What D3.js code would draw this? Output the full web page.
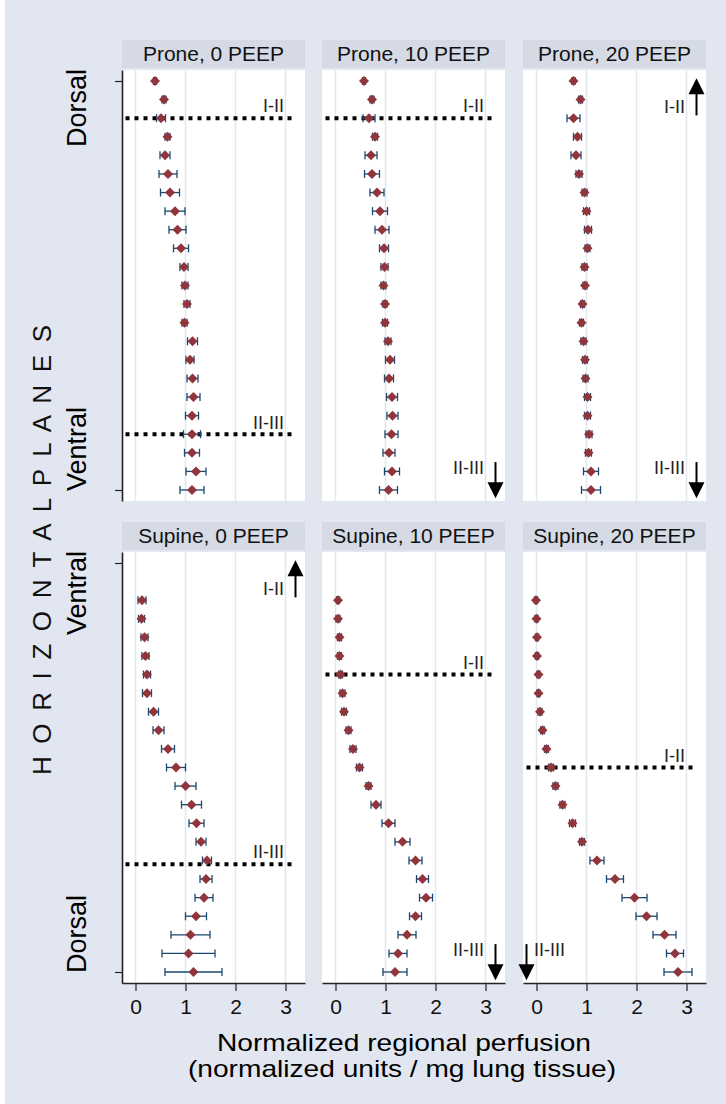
<!DOCTYPE html>
<html>
<head>
<meta charset="utf-8">
<script src="https://cdn.jsdelivr.net/npm/d3@7"></script>
<style>
  body { margin: 0; background: #fff; }
  text { font-family: "Liberation Sans", Arial, sans-serif; }
</style>
</head>
<body>
<svg id="chart" width="726" height="1104"></svg>
<script>
// planes 1..23, top of each panel to bottom
var planes = d3.range(1, 24);
var panelTitles = ["Prone, 0 PEEP", "Prone, 10 PEEP", "Prone, 20 PEEP",
                   "Supine, 0 PEEP", "Supine, 10 PEEP", "Supine, 20 PEEP"];
var xTicks = [0, 1, 2, 3];
var proneEnds = ["Dorsal", "Ventral"];
var supineEnds = ["Ventral", "Dorsal"];
var xTitle = ["Normalized regional perfusion", "(normalized units / mg lung tissue)"];
var yTitle = "H O R I Z O N T A L  P L A N E S";

var prone0Mean = [0.39, 0.57, 0.51, 0.64, 0.59, 0.65, 0.69, 0.79, 0.84, 0.91, 0.97, 0.99,
                  1.03, 0.98, 1.14, 1.09, 1.14, 1.16, 1.13, 1.13, 1.13, 1.21, 1.13];
var prone0Err  = [0.03, 0.04, 0.09, 0.05, 0.10, 0.18, 0.19, 0.20, 0.17, 0.15, 0.08, 0.06,
                  0.06, 0.05, 0.10, 0.08, 0.11, 0.13, 0.13, 0.17, 0.15, 0.20, 0.24];
var prone10Mean = [0.57, 0.73, 0.67, 0.79, 0.71, 0.73, 0.83, 0.89, 0.93, 0.97, 0.98, 0.96,
                   0.99, 0.99, 1.05, 1.09, 1.07, 1.13, 1.14, 1.12, 1.07, 1.13, 1.06];
var prone10Err  = [0.03, 0.04, 0.12, 0.05, 0.12, 0.15, 0.14, 0.15, 0.14, 0.09, 0.07, 0.05,
                   0.04, 0.05, 0.06, 0.09, 0.09, 0.11, 0.11, 0.13, 0.12, 0.15, 0.18];
var prone20Mean = [0.74, 0.88, 0.74, 0.82, 0.79, 0.85, 0.96, 1.00, 1.03, 1.02, 0.96, 0.97,
                   0.92, 0.90, 0.94, 0.97, 0.98, 1.02, 1.02, 1.05, 1.04, 1.09, 1.09];
var prone20Err  = [0.03, 0.04, 0.13, 0.08, 0.10, 0.06, 0.05, 0.06, 0.07, 0.05, 0.05, 0.04,
                   0.04, 0.04, 0.05, 0.05, 0.05, 0.06, 0.06, 0.06, 0.06, 0.15, 0.19];
var supine0Mean = [null, null, 0.13, 0.12, 0.18, 0.20, 0.23, 0.23, 0.36, 0.46, 0.65, 0.81,
                   1.00, 1.12, 1.22, 1.31, 1.43, 1.41, 1.37, 1.21, 1.10, 1.06, 1.16];
var supine0Err  = [null, null, 0.08, 0.06, 0.07, 0.07, 0.07, 0.09, 0.10, 0.11, 0.13, 0.19,
                   0.21, 0.20, 0.15, 0.10, 0.09, 0.12, 0.18, 0.21, 0.39, 0.53, 0.57];
var supine10Mean = [null, null, 0.05, 0.05, 0.08, 0.08, 0.10, 0.14, 0.17, 0.26, 0.35, 0.48,
                    0.66, 0.81, 1.06, 1.34, 1.60, 1.74, 1.81, 1.60, 1.43, 1.25, 1.19];
var supine10Err  = [null, null, 0.03, 0.04, 0.04, 0.04, 0.04, 0.05, 0.05, 0.05, 0.06, 0.06,
                    0.05, 0.10, 0.13, 0.15, 0.13, 0.12, 0.13, 0.12, 0.18, 0.18, 0.24];
var supine20Mean = [null, null, -0.01, 0.00, 0.01, 0.01, 0.04, 0.04, 0.07, 0.12, 0.20, 0.29,
                    0.38, 0.52, 0.72, 0.91, 1.21, 1.57, 1.96, 2.20, 2.56, 2.77, 2.83];
var supine20Err  = [null, null, 0.03, 0.03, 0.03, 0.03, 0.03, 0.03, 0.04, 0.04, 0.04, 0.05,
                    0.05, 0.05, 0.06, 0.05, 0.14, 0.17, 0.25, 0.21, 0.23, 0.17, 0.28];

// zone boundaries: plane where it falls, or "above"/"below" when outside the lung
var prone0Bounds   = [{label: "I-II", at: 3}, {label: "II-III", at: 20}];
var prone10Bounds  = [{label: "I-II", at: 3}, {label: "II-III", at: "below"}];
var prone20Bounds  = [{label: "I-II", at: "above"}, {label: "II-III", at: "below"}];
var supine0Bounds  = [{label: "I-II", at: "above"}, {label: "II-III", at: 17.2}];
var supine10Bounds = [{label: "I-II", at: 7}, {label: "II-III", at: "below"}];
var supine20Bounds = [{label: "I-II", at: 12}, {label: "II-III", at: "below", left: true}];

var panels = [
  {mean: prone0Mean, err: prone0Err, bounds: prone0Bounds, ends: proneEnds},
  {mean: prone10Mean, err: prone10Err, bounds: prone10Bounds, ends: proneEnds},
  {mean: prone20Mean, err: prone20Err, bounds: prone20Bounds, ends: proneEnds},
  {mean: supine0Mean, err: supine0Err, bounds: supine0Bounds, ends: supineEnds},
  {mean: supine10Mean, err: supine10Err, bounds: supine10Bounds, ends: supineEnds},
  {mean: supine20Mean, err: supine20Err, bounds: supine20Bounds, ends: supineEnds}
];
panels.forEach(function(p, i){ p.title = panelTitles[i]; });

var colX = [122, 322, 523], rowY = [70, 552];
var plotW = 183, plotH = 431, pad = 11;

var svg = d3.select("#chart");
svg.append("rect")
  .attr("x", 5).attr("y", 0)
  .attr("width", 721).attr("height", 1104)
  .attr("fill", "#e2e6f0");

var x = d3.scaleLinear().domain([-0.27, 3.39]).range([0, plotW]);
var y = d3.scaleLinear().domain([1, 23]).range([pad, plotH - pad]);
var yAxisScale = y.copy().domain([y.invert(0), y.invert(plotH)]).range([0, plotH]);

var diamond = function(r){
  return "M0," + (-r) + "L" + r + ",0L0," + r + "L" + (-r) + ",0Z";
};

function arrow(g, xv, from, to){
  var ax = x(xv), y0 = y(from), y1 = y(to);
  var dir = y1 < y0 ? 1 : -1;
  g.append("line")
    .attr("x1", ax).attr("x2", ax)
    .attr("y1", y0).attr("y2", y1 + dir * 12)
    .attr("stroke", "#000").attr("stroke-width", 2);
  g.append("path")
    .attr("d", "M" + ax + "," + y1 + "L" + (ax - 8) + "," + (y1 + dir * 16) +
               "L" + (ax + 8) + "," + (y1 + dir * 16) + "Z")
    .attr("fill", "#000");
}

function label(g, txt, xv, yv, anchor){
  g.append("text")
    .attr("x", x(xv)).attr("y", yv)
    .attr("dy", "0.35em")
    .attr("text-anchor", anchor)
    .attr("font-size", 18)
    .attr("fill", "#222")
    .text(txt);
}

panels.forEach(function(p, i){
  var col = i % 3, row = Math.floor(i / 3);
  var g = svg.append("g")
    .attr("transform", "translate(" + colX[col] + "," + rowY[row] + ")");

  // strip
  g.append("rect")
    .attr("x", 0).attr("y", -30)
    .attr("width", plotW).attr("height", 28)
    .attr("fill", "#d5dae5");
  g.append("text")
    .attr("x", plotW / 2).attr("y", -9)
    .attr("text-anchor", "middle")
    .attr("font-size", 21)
    .attr("fill", "#111")
    .text(p.title);

  g.append("rect")
    .attr("width", plotW).attr("height", plotH)
    .attr("fill", "#fff");

  g.selectAll("line.grid")
    .data(xTicks)
    .enter().append("line")
    .attr("class", "grid")
    .attr("x1", x).attr("x2", x)
    .attr("y1", 0).attr("y2", plotH)
    .attr("stroke", "#e1e6ef")
    .attr("stroke-width", 1.5);

  p.bounds.forEach(function(b){
    if (typeof b.at === "number"){
      g.append("line")
        .attr("x1", x(-0.2)).attr("x2", x(3.2))
        .attr("y1", y(b.at)).attr("y2", y(b.at))
        .attr("stroke", "#000")
        .attr("stroke-width", 4)
        .attr("stroke-dasharray", "4,5");
      label(g, b.label, 2.97, y(b.at) - 12, "end");
    } else if (b.at === "above"){
      arrow(g, 3.2, 2.85, 0.85);
      label(g, b.label, 2.97, y(2.4), "end");
    } else {
      if (b.left){
        arrow(g, -0.2, 21.5, 23.45);
        label(g, b.label, -0.05, y(21.78), "start");
      } else {
        arrow(g, 3.2, 21.5, 23.45);
        label(g, b.label, 2.97, y(21.78), "end");
      }
    }
  });

  var pts = planes.map(function(pl, k){
    return {plane: pl, mean: p.mean[k], err: p.err[k]};
  }).filter(function(d){ return d.mean !== null; });

  var bars = g.selectAll("g.bar")
    .data(pts)
    .enter().append("g")
    .attr("class", "bar")
    .attr("stroke", "#1a476f")
    .attr("stroke-width", 1.3);
  bars.append("line")
    .attr("x1", function(d){ return x(d.mean - d.err); })
    .attr("x2", function(d){ return x(d.mean + d.err); })
    .attr("y1", function(d){ return y(d.plane); })
    .attr("y2", function(d){ return y(d.plane); });
  [-1, 1].forEach(function(s){
    bars.append("line")
      .attr("x1", function(d){ return x(d.mean + s * d.err); })
      .attr("x2", function(d){ return x(d.mean + s * d.err); })
      .attr("y1", function(d){ return y(d.plane) - 4; })
      .attr("y2", function(d){ return y(d.plane) + 4; });
  });

  g.selectAll("path.mk")
    .data(pts)
    .enter().append("path")
    .attr("class", "mk")
    .attr("d", diamond(5))
    .attr("transform", function(d){
      return "translate(" + x(d.mean) + "," + y(d.plane) + ")";
    })
    .attr("fill", "#90353b");

  if (col === 0){
    var ya = g.append("g")
      .call(d3.axisLeft(yAxisScale).tickValues([1, 23]).tickSize(7)
        .tickSizeOuter(0).tickFormat(""));
    ya.select(".domain").attr("stroke", "#222").attr("stroke-width", 1.6);
    ya.selectAll(".tick line").attr("stroke", "#222").attr("stroke-width", 1.2);
    g.append("text")
      .attr("transform", "translate(-36," + (y(1) - 12) + ") rotate(-90)")
      .attr("text-anchor", "end")
      .attr("font-size", 27)
      .text(p.ends[0]);
    g.append("text")
      .attr("transform", "translate(-36," + (y(23) + 1) + ") rotate(-90)")
      .attr("text-anchor", "start")
      .attr("font-size", 27)
      .text(p.ends[1]);
  }

  if (row === 1){
    var xa = g.append("g")
      .attr("transform", "translate(0," + plotH + ")")
      .call(d3.axisBottom(x).tickValues(xTicks).tickFormat(d3.format("d"))
        .tickSize(8).tickSizeOuter(0));
    xa.select(".domain").attr("stroke", "#222").attr("stroke-width", 1.6);
    xa.selectAll(".tick line").attr("stroke", "#222").attr("stroke-width", 1.2);
    xa.selectAll(".tick text")
      .attr("y", 16)
      .attr("font-size", 21)
      .attr("font-family", "Liberation Sans, Arial, sans-serif")
      .attr("fill", "#111");
  }
});

svg.append("text")
  .attr("x", 404).attr("y", 1051)
  .attr("text-anchor", "middle")
  .attr("font-size", 24)
  .attr("textLength", 374)
  .attr("lengthAdjust", "spacingAndGlyphs")
  .text(xTitle[0]);
svg.append("text")
  .attr("x", 402).attr("y", 1077)
  .attr("text-anchor", "middle")
  .attr("font-size", 24)
  .attr("textLength", 428)
  .attr("lengthAdjust", "spacingAndGlyphs")
  .text(xTitle[1]);

svg.append("text")
  .attr("transform", "translate(51,550) rotate(-90)")
  .attr("text-anchor", "middle")
  .attr("font-size", 26)
  .attr("textLength", 450)
  .attr("lengthAdjust", "spacing")
  .attr("fill", "#111")
  .text(yTitle);
</script>
</body>
</html>
